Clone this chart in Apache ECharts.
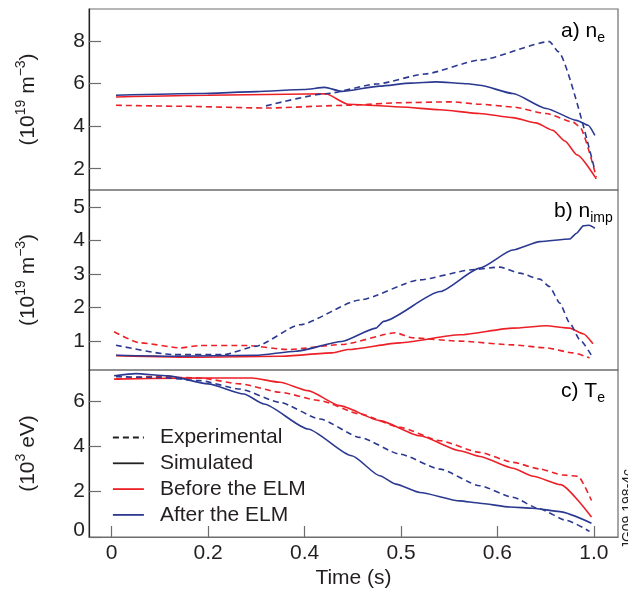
<!DOCTYPE html>
<html>
<head>
<meta charset="utf-8">
<script src="https://cdn.jsdelivr.net/npm/echarts@6/dist/echarts.min.js"></script>
<style>
  html, body { margin: 0; padding: 0; background: #fff; }
  #chart { width: 628px; height: 590px; }
</style>
</head>
<body>
<div id="chart"></div>
<script>
// Time axis: positions are fractions of the span between the first and last tick
const timeTicks = [0, 0.2, 0.4, 0.6, 0.8, 1.0];
const timeLabels = ['0', '0.2', '0.4', '0.5', '0.6', '1.0'];
const neTicks = [2, 4, 6, 8];
const impTicks = [1, 2, 3, 4, 5];
const teTicks = [0, 2, 4, 6];
const legendNames = ['Experimental', 'Simulated', 'Before the ELM', 'After the ELM'];

// a) electron density n_e (10^19 m^-3)
const neBeforeSim = [[0.009,5.37],[0.2,5.45],[0.444,5.52],[0.490,5.03],[0.6,4.9],[0.68,4.77],[0.763,4.59],[0.832,4.4],[0.88,4.15],[0.915,3.8],[0.940,3.3],[0.965,2.65],[1.005,1.52]];
const neBeforeExp = [[0.009,4.98],[0.15,4.93],[0.32,4.85],[0.49,4.98],[0.6,5.1],[0.705,5.14],[0.763,5.03],[0.832,4.9],[0.901,4.59],[0.957,4.19],[0.971,3.96],[1.005,1.6]];
const neAfterSim = [[0.009,5.45],[0.183,5.53],[0.30,5.62],[0.399,5.72],[0.442,5.82],[0.477,5.63],[0.556,5.88],[0.62,6.02],[0.672,6.08],[0.739,5.99],[0.763,5.92],[0.832,5.53],[0.901,4.83],[0.964,4.27],[0.988,4.04],[1.002,3.57]];
const neAfterExp = [[0.32,4.95],[0.444,5.52],[0.55,5.98],[0.65,6.45],[0.763,7.1],[0.908,7.97],[0.926,7.5],[1.002,1.92]];

// b) impurity density n_imp (10^19 m^-3)
const impBeforeSim = [[0.009,0.56],[0.183,0.51],[0.349,0.54],[0.457,0.64],[0.49,0.74],[0.598,0.94],[0.722,1.18],[0.832,1.38],[0.901,1.45],[0.95,1.38],[0.978,1.21],[0.998,0.91]];
const impBeforeExp = [[0.005,1.27],[0.059,0.94],[0.143,0.79],[0.183,0.86],[0.282,0.86],[0.365,0.74],[0.477,0.89],[0.589,1.24],[0.623,1.09],[0.722,0.99],[0.832,0.88],[0.901,0.79],[0.957,0.64],[0.991,0.49]];
const impAfterSim = [[0.009,0.57],[0.125,0.54],[0.299,0.57],[0.382,0.69],[0.477,0.98],[0.548,1.38],[0.564,1.58],[0.681,2.47],[0.763,3.17],[0.832,3.71],[0.888,3.96],[0.95,4.04],[0.964,4.21],[0.978,4.43],[0.99,4.45],[1.002,4.36]];
const impAfterExp = [[0.009,0.87],[0.125,0.59],[0.233,0.59],[0.299,0.84],[0.39,1.48],[0.515,2.22],[0.639,2.82],[0.747,3.12],[0.805,3.2],[0.846,3.02],[0.888,2.84],[0.908,2.62],[0.929,2.13],[0.95,1.53],[0.971,1.03],[0.998,0.49]];

// c) electron temperature T_e (10^3 eV)
const teBeforeSim = [[0.005,6.96],[0.15,7.0],[0.291,7.01],[0.349,6.82],[0.407,6.45],[0.473,5.79],[0.556,5.13],[0.639,4.46],[0.722,3.8],[0.763,3.55],[0.832,3.03],[0.874,2.68],[0.931,2.31],[0.995,0.88]];
const teBeforeExp = [[0.009,6.96],[0.084,7.07],[0.183,7.01],[0.266,6.75],[0.349,6.38],[0.432,6.01],[0.515,5.42],[0.598,4.83],[0.681,4.24],[0.763,3.73],[0.832,3.29],[0.887,3.0],[0.936,2.73],[0.967,2.68],[0.995,1.61]];
const teAfterSim = [[0.005,7.11],[0.05,7.2],[0.117,7.1],[0.2,6.75],[0.274,6.3],[0.316,5.86],[0.407,4.76],[0.498,3.58],[0.556,2.7],[0.589,2.33],[0.639,1.96],[0.722,1.59],[0.763,1.49],[0.826,1.32],[0.874,1.27],[0.929,1.12],[0.995,0.61]];
const teAfterExp = [[0.009,7.07],[0.1,7.03],[0.183,6.89],[0.266,6.52],[0.349,5.93],[0.432,5.2],[0.515,4.39],[0.598,3.65],[0.681,2.99],[0.763,2.26],[0.832,1.75],[0.887,1.24],[0.943,0.73],[0.991,0.25]];

const RED = '#ec2027';
const BLUE = '#2b3990';
const INK = '#231f20';
const FRAME = '#6d6d6d';
const FONT = '"Liberation Sans", Arial, Helvetica, sans-serif';
const DASH = [6, 4];

const unitRich = {
  n: { fontSize: 21, fontFamily: FONT, color: INK, lineHeight: 28 },
  s: { fontSize: 14, fontFamily: FONT, color: INK, verticalAlign: 'top' }
};
const panelRich = {
  n: { fontSize: 21, fontFamily: FONT, color: INK, lineHeight: 28 },
  b: { fontSize: 14, fontFamily: FONT, color: INK, verticalAlign: 'bottom' }
};

const gridBox = [
  { top: 9, height: 181 },
  { top: 190, height: 180 },
  { top: 370, height: 168 }
];

function yAxisFor(idx, min, max, ticks, name) {
  return {
    type: 'value', gridIndex: idx, min: min, max: max,
    name: name, nameLocation: 'middle', nameRotate: 90, nameGap: 47,
    nameTextStyle: { rich: unitRich },
    axisLine: { show: true, onZero: false, lineStyle: { color: '#222', width: 1.2 } },
    axisTick: { show: true, inside: true, length: 12, customValues: ticks, lineStyle: { color: FRAME, width: 1.2 } },
    axisLabel: {
      customValues: ticks, margin: 4, fontSize: 21, fontFamily: FONT, color: INK,
      formatter: v => (idx === 2 && v === 0) ? '{z|0}' : String(v),
      rich: { z: { fontSize: 21, fontFamily: FONT, color: INK, padding: [0, 0, 14, 0] } }
    },
    splitLine: { show: false }
  };
}

function xAxisFor(idx) {
  const bottom = idx === 2;
  return {
    type: 'value', gridIndex: idx, min: -0.047, max: 1.05,
    show: bottom,
    name: bottom ? 'Time (s)' : '', nameLocation: 'middle', nameGap: 31,
    nameTextStyle: { fontSize: 21, fontFamily: FONT, color: INK },
    axisLine: { show: true, onZero: false, lineStyle: { color: FRAME, width: 1.2 } },
    axisTick: { show: true, inside: true, length: 11, customValues: timeTicks, lineStyle: { color: FRAME, width: 1.2 } },
    axisLabel: {
      customValues: timeTicks, margin: 6, fontSize: 21, fontFamily: FONT, color: INK,
      formatter: v => timeLabels[timeTicks.findIndex(t => Math.abs(t - v) < 1e-6)]
    },
    splitLine: { show: false }
  };
}

function line(name, data, color, dashed, idx) {
  return {
    type: 'line', name: name, data: data,
    xAxisIndex: idx, yAxisIndex: idx,
    symbol: 'none', smooth: 0.2, smoothMonotone: 'x',
    lineStyle: { color: color, width: 1.6, type: dashed ? DASH : 'solid' },
    itemStyle: { color: color },
    emphasis: { disabled: true }, animation: false
  };
}

const series = [
  line(legendNames[2], neBeforeSim, RED, false, 0),
  line(legendNames[2], neBeforeExp, RED, true, 0),
  line(legendNames[3], neAfterSim, BLUE, false, 0),
  line(legendNames[3], neAfterExp, BLUE, true, 0),
  line(legendNames[2], impBeforeSim, RED, false, 1),
  line(legendNames[2], impBeforeExp, RED, true, 1),
  line(legendNames[3], impAfterSim, BLUE, false, 1),
  line(legendNames[3], impAfterExp, BLUE, true, 1),
  line(legendNames[2], teBeforeSim, RED, false, 2),
  line(legendNames[2], teBeforeExp, RED, true, 2),
  line(legendNames[3], teAfterSim, BLUE, false, 2),
  line(legendNames[3], teAfterExp, BLUE, true, 2),
  // style keys for the legend
  line(legendNames[0], [], '#222', true, 2),
  line(legendNames[1], [], '#222', false, 2)
];

const chart = echarts.init(document.getElementById('chart'), null, { renderer: 'canvas' });
chart.setOption({
  animation: false,
  backgroundColor: '#fff',
  grid: gridBox.map(g => ({
    left: 89, width: 529, top: g.top, height: g.height,
    show: true, borderColor: FRAME, borderWidth: 1.2, containLabel: false
  })),
  xAxis: [0, 1, 2].map(xAxisFor),
  yAxis: [
    yAxisFor(0, 1.0, 9.5, neTicks, '{n|(10}{s|19}{n| m}{s|\u22123}{n|)}'),
    yAxisFor(1, 0.13, 5.5, impTicks, '{n|(10}{s|19}{n| m}{s|\u22123}{n|)}'),
    yAxisFor(2, 0, 7.36, teTicks, '{n|(10}{s|3}{n| eV)}')
  ],
  legend: {
    data: legendNames,
    orient: 'vertical', left: 112, top: 427, padding: 0,
    itemWidth: 31, itemHeight: 14, itemGap: 4.8,
    selectedMode: false,
    itemStyle: { opacity: 0 },
    lineStyle: { width: 1.8 },
    textStyle: { fontSize: 21, fontFamily: FONT, color: INK, padding: [0, 0, 0, 11] }
  },
  graphic: [
    { type: 'text', left: 561, top: 21, style: { text: '{n|a) n}{b|e}', rich: panelRich } },
    { type: 'text', left: 554, top: 201, style: { text: '{n|b) n}{b|imp}', rich: panelRich } },
    { type: 'text', left: 561, top: 381, style: { text: '{n|c) T}{b|e}', rich: panelRich } },
    { type: 'text', x: 628, y: 509, rotation: Math.PI / 2,
      style: { text: 'JG09.198-4c', fontSize: 14, fontFamily: FONT, fill: INK, align: 'center', verticalAlign: 'middle' } }
  ],
  series: series
});
</script>
</body>
</html>
